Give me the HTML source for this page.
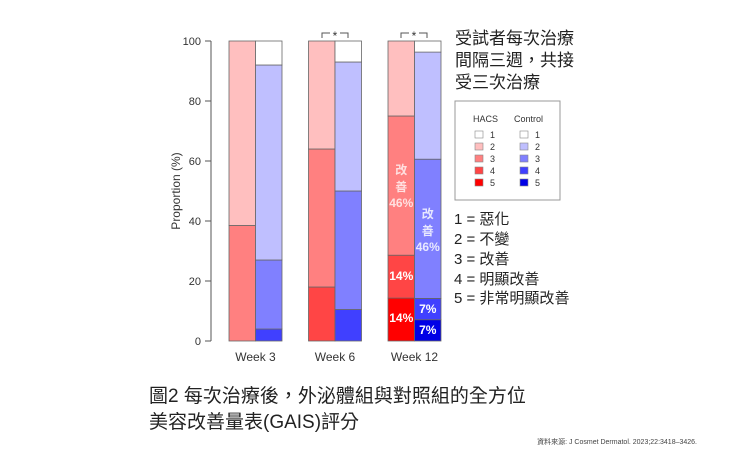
<!DOCTYPE html>
<html><head><meta charset="utf-8"><style>
body{margin:0;background:#fff;width:740px;height:463px;overflow:hidden}
svg{display:block}
</style></head><body>
<svg id="chart" width="740" height="463" xmlns="http://www.w3.org/2000/svg"
 font-family="'Liberation Sans','Noto Sans CJK TC',sans-serif">
<g id="axes"></g>
<g id="bars"></g>
<g id="labels"></g>
<text x="180" y="191" font-size="12" fill="#333" text-anchor="middle" transform="rotate(-90 180 191)">Proportion (%)</text>
<g font-size="12" fill="#333" text-anchor="middle">
<path d="M322 38 V33 H330 M340 33 H348 V38" fill="none" stroke="#555" stroke-width="1"/>
<text x="335" y="40">*</text>
<path d="M401 38 V33 H409 M419 33 H427 V38" fill="none" stroke="#555" stroke-width="1"/>
<text x="414" y="40">*</text>
</g>
<g font-size="17" fill="#222">
<text x="455" y="44">受試者每次治療</text>
<text x="455" y="66">間隔三週，共接</text>
<text x="455" y="88">受三次治療</text>
</g>
<rect x="455" y="101" width="105" height="99" fill="#fff" stroke="#999"/>
<g id="legend" font-size="9" fill="#333"></g>
<g font-size="15" fill="#222">
<text x="454" y="224">1 = 惡化</text>
<text x="454" y="244">2 = 不變</text>
<text x="454" y="264">3 = 改善</text>
<text x="454" y="284">4 = 明顯改善</text>
<text x="454" y="303">5 = 非常明顯改善</text>
</g>
<g font-size="19" fill="#222">
<text x="149" y="402">圖2 每次治療後，外泌體組與對照組的全方位</text>
<text x="149" y="428">美容改善量表(GAIS)評分</text>
</g>
<text x="697" y="444" font-size="7" fill="#444" text-anchor="end">資料來源: J Cosmet Dermatol. 2023;22:3418–3426.</text>
</svg>
<script>
const weeks=["Week 3","Week 6","Week 12"];
// segment values in %, ordered score 5,4,3,2,1 (bottom to top)
const hacsValues=[[0,0,38.5,61.5,0],[0,18,46,36,0],[14.3,14.3,46.4,25,0]];
const controlValues=[[0,4,23,65,8],[0,10.5,39.5,43,7],[7.1,7.1,46.4,35.7,3.7]];
const yTicks=[0,20,40,60,80,100];
const hacsColors=["#ff0000","#ff4545","#ff8080","#ffbfbf","#ffffff"];
const ctrlColors=["#0000e6","#4040ff","#8080ff","#bfbfff","#ffffff"];
const ns="http://www.w3.org/2000/svg";
function y(v){return 341-v*3;}
function xGroup(i){return 229+i*79.5;}
const bw=26.5;
function mk(tag,attrs,parent){const e=document.createElementNS(ns,tag);for(const k in attrs)e.setAttribute(k,attrs[k]);parent.appendChild(e);return e;}
const axes=document.getElementById('axes');
mk('line',{x1:211,x2:211,y1:y(0),y2:y(100),stroke:'#555'},axes);
yTicks.forEach(t=>{
  const l=mk('line',{x1:205,x2:211,y1:y(t),y2:y(t),stroke:'#555'},axes);
  
  
  const tx=mk('text',{x:201,y:y(t)+4,'font-size':11,fill:'#333','text-anchor':'end'},axes);
  tx.textContent=t;
  
  
});
const bars=document.getElementById('bars');
function drawStack(vals,colors,x,name){
  let c=0;
  vals.forEach((v,j)=>{
    if(v<=0)return;
    const r=mk('rect',{x:x,y:y(c+v),width:bw,height:v*3,fill:colors[j],stroke:'#666','stroke-width':0.8},bars);
    
    
    c+=v;
  });
}
weeks.forEach((w,i)=>{
  drawStack(hacsValues[i],hacsColors,xGroup(i),'hacs-bar-'+(i+1));
  drawStack(controlValues[i],ctrlColors,xGroup(i)+bw,'control-bar-'+(i+1));
  const t=mk('text',{x:xGroup(i)+bw,y:361,'font-size':12,fill:'#333','text-anchor':'middle'},axes);
  t.textContent=w;
  
  
});
const lab=document.getElementById('labels');
function lbl(txt,x,yy,fill){const t=mk('text',{x:x,y:yy,'font-size':12,'font-weight':'bold',fill:fill,'text-anchor':'middle'},lab);t.textContent=txt;

}
const hx=xGroup(2)+bw/2, cx=xGroup(2)+bw*1.5;
lbl('改',hx,174,'#ffe0e0');lbl('善',hx,191,'#ffe0e0');lbl('46%',hx,207,'#ffe0e0');
lbl('14%',hx,280,'#fff');lbl('14%',hx,322,'#fff');
lbl('改',cx,218,'#e8e8ff');lbl('善',cx,235,'#e8e8ff');lbl('46%',cx,251,'#e8e8ff');
lbl('7%',cx,313,'#fff');lbl('7%',cx,334,'#fff');
const lg=document.getElementById('legend');
let t1=mk('text',{x:473,y:122},lg);t1.textContent='HACS';
let t2=mk('text',{x:514,y:122},lg);t2.textContent='Control';
for(let k=0;k<5;k++){
  const yy=131+k*12;
  const r1=mk('rect',{x:475,y:yy,width:8,height:7,fill:hacsColors[4-k],stroke:'#888','stroke-width':0.6},lg);
  
  
  const r2=mk('rect',{x:520,y:yy,width:8,height:7,fill:ctrlColors[4-k],stroke:'#888','stroke-width':0.6},lg);
  
  
  const a=mk('text',{x:490,y:yy+7},lg);a.textContent=k+1;
  const b=mk('text',{x:535,y:yy+7},lg);b.textContent=k+1;
}
</script>
</body></html>
